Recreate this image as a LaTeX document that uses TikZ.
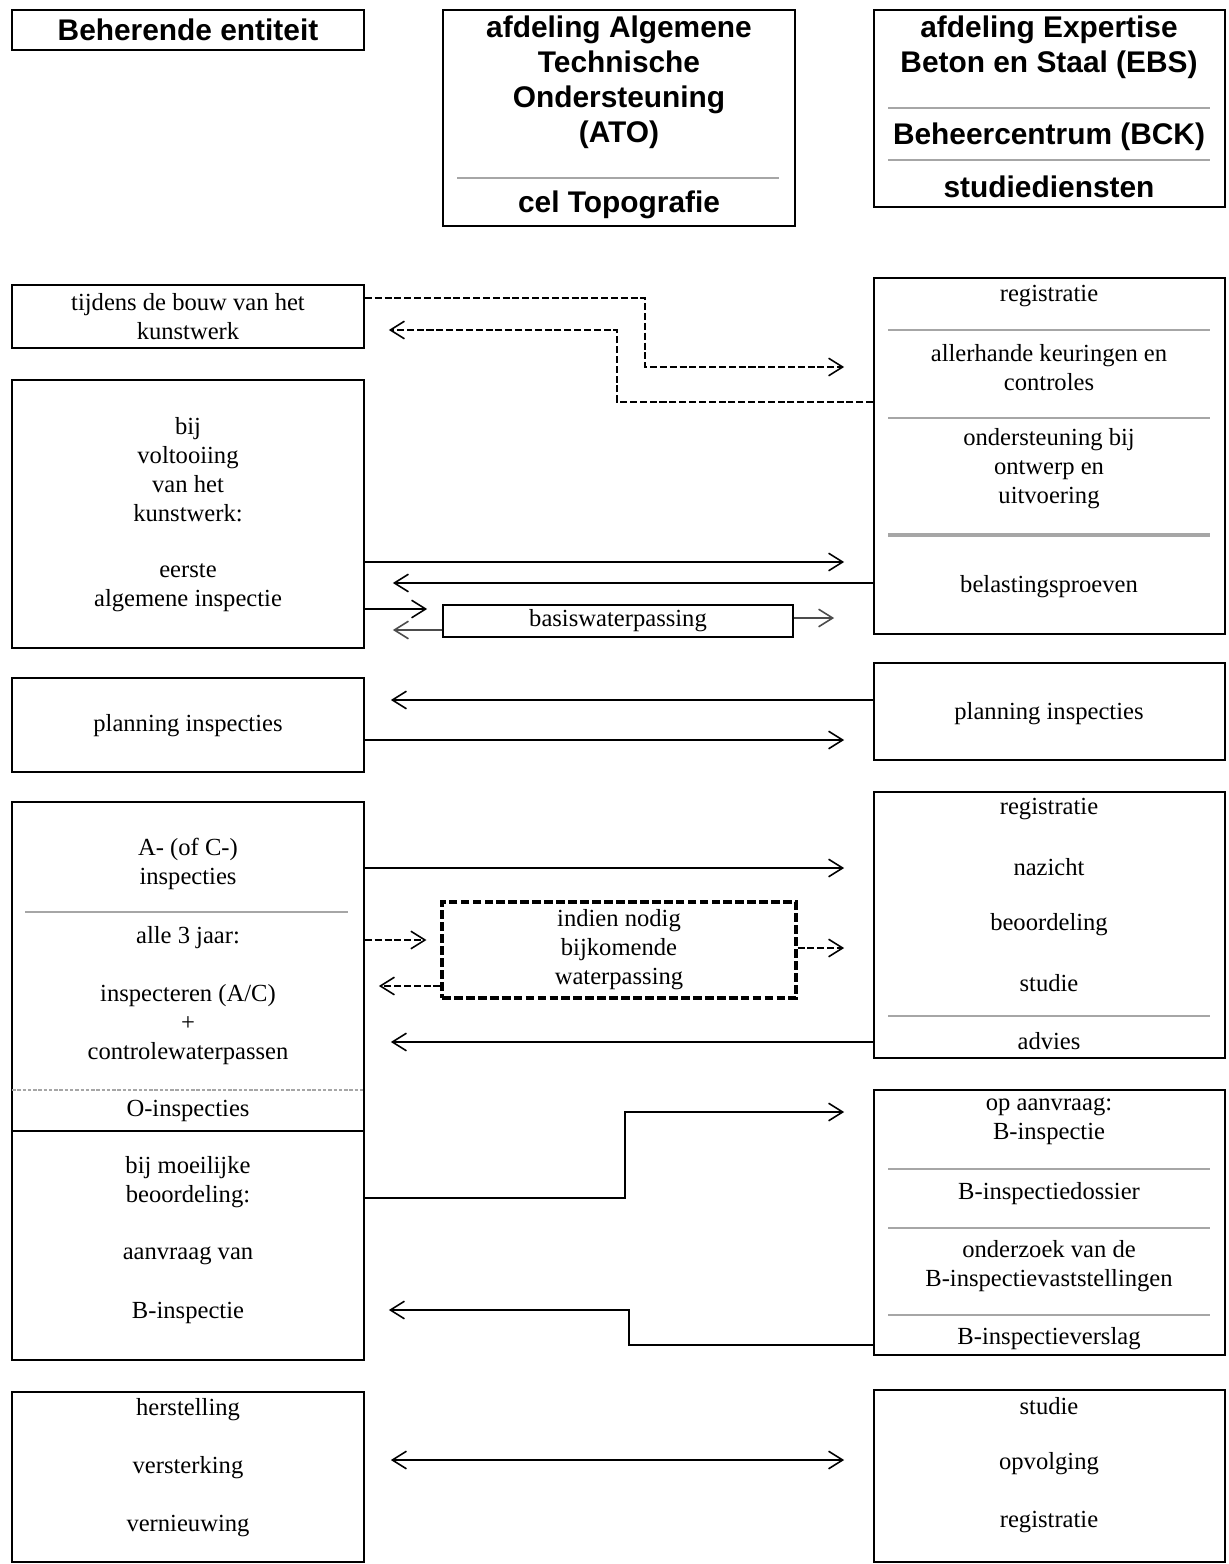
\documentclass[tikz,border=0pt]{standalone}
\usepackage{fontspec}
\setmainfont{Liberation Serif}
\newfontfamily\hdrfont{Liberation Sans}
\usetikzlibrary{arrows.meta, fit, calc}

\tikzset{
  box/.style={draw, line width=1pt, inner sep=0pt},
  txt/.style={align=center, inner sep=0pt, font=\fontsize{14}{16.5}\selectfont},
  hdr/.style={align=center, inner sep=0pt, font=\hdrfont\bfseries\fontsize{17}{20}\selectfont},
  sep/.style={draw=gray!70, line width=1.6pt},
  arr/.style={->, line width=0.9pt},
  darr/.style={arr, dash pattern=on 4pt off 1.6pt},
  >={Straight Barb[length=8pt, width=10pt]}
}

\begin{document}
\begin{tikzpicture}[x=0.02cm, y=-0.02cm]

    \useasboundingbox (0,0) rectangle (1228,1564);

    % kolomkoppen
    \node[box, fit={(12,10) (364,50)}] (H1) {};
    \node[box, fit={(443,10) (795,226)}] (H2) {};
    \node[box, fit={(874,10) (1225,207)}] (H3) {};

    \node[hdr] (h1) at (188,30) {Beherende entiteit};
    \node[hdr] (h2) at (619,82.5) {afdeling Algemene\\Technische\\Ondersteuning\\(ATO)};
    \draw[sep] (457,178) -- (779,178);
    \node[hdr] (h2b) at (619,205) {cel Topografie};
    \node[hdr] (h3) at (1049,47.5) {afdeling Expertise\\Beton en Staal (EBS)};
    \draw[sep] (888,108) -- (1210,108);
    \node[hdr] (h3b) at (1049,137) {Beheercentrum (BCK)};
    \draw[sep, line width=1pt] (888,160) -- (1210,160);
    \node[hdr] (h3c) at (1049,187) {studiediensten};

    % beherende entiteit
    \node[box, fit={(12,285) (364,348)}] (L1) {};
    \node[box, fit={(12,380) (364,648)}] (L2) {};
    \node[box, fit={(12,678) (364,772)}] (L3) {};
    \node[box, fit={(12,802) (364,1131)}] (LAC) {};
    \node[box, fit={(12,1131) (364,1360)}] (LB) {};
    \node[box, fit={(12,1392) (364,1562)}] (L5) {};

    \node[txt] (l1) at (188,317) {tijdens de bouw van het\\kunstwerk};
    \node[txt] (l2a) at (188,470) {bij\\voltooiing\\van het\\kunstwerk:};
    \node[txt] (l2b) at (188,588) {eerste\\algemene inspectie};
    \node[txt] (l3) at (188,726) {planning inspecties};
    \node[txt] (l4a) at (188,864) {A- (of C-)\\inspecties};
    \draw[sep] (25,912) -- (348,912);
    \node[txt] (l4b) at (188,938) {alle 3 jaar:};
    \node[txt] (l4c) at (188,1025) {inspecteren (A/C)\\+\\controlewaterpassen};
    \draw[draw=gray!70, line width=1.2pt, dash pattern=on 2pt off 1pt] (12,1090) -- (364,1090);
    \node[txt] (l4d) at (188,1111) {O-inspecties};
    \node[txt] (lb1) at (188,1182) {bij moeilijke\\beoordeling:};
    \node[txt] (lb2) at (188,1256) {aanvraag van};
    \node[txt] (lb3) at (188,1313) {B-inspectie};
    \node[txt] (l5a) at (188,1410) {herstelling};
    \node[txt] (l5b) at (188,1468) {versterking};
    \node[txt] (l5c) at (188,1526) {vernieuwing};

    % studiediensten
    \node[box, fit={(874,278) (1225,634)}] (R1) {};
    \node[box, fit={(874,663) (1225,760)}] (R2) {};
    \node[box, fit={(874,792) (1225,1058)}] (R3) {};
    \node[box, fit={(874,1090) (1225,1355)}] (R4) {};
    \node[box, fit={(874,1390) (1225,1562)}] (R5) {};

    \node[txt] (r1a) at (1049,296) {registratie};
    \draw[sep] (888,330) -- (1210,330);
    \node[txt] (r1b) at (1049,368) {allerhande keuringen en\\controles};
    \draw[sep] (888,418) -- (1210,418);
    \node[txt] (r1c) at (1049,469) {ondersteuning bij\\ontwerp en\\uitvoering};
    \draw[sep, line width=2.2pt] (888,535) -- (1210,535);
    \node[txt] (r1d) at (1049,587) {belastingsproeven};
    \node[txt] (r2) at (1049,714) {planning inspecties};
    \node[txt] (r3a) at (1049,809) {registratie};
    \node[txt] (r3b) at (1049,867) {nazicht};
    \node[txt] (r3c) at (1049,925) {beoordeling};
    \node[txt] (r3d) at (1049,983) {studie};
    \draw[sep] (888,1016) -- (1210,1016);
    \node[txt] (r3e) at (1049,1041) {advies};
    \node[txt] (r4a) at (1049,1121.5) {op aanvraag:\\B-inspectie};
    \draw[sep] (888,1169) -- (1210,1169);
    \node[txt] (r4b) at (1049,1194) {B-inspectiedossier};
    \draw[sep] (888,1228) -- (1210,1228);
    \node[txt] (r4c) at (1049,1266.5) {onderzoek van de\\B-inspectievaststellingen};
    \draw[sep, line width=1pt] (888,1315) -- (1210,1315);
    \node[txt] (r4d) at (1049,1339) {B-inspectieverslag};
    \node[txt] (r5a) at (1049,1406) {studie};
    \node[txt] (r5b) at (1049,1464) {opvolging};
    \node[txt] (r5c) at (1049,1522) {registratie};

    % topografie
    \node[box, fit={(443,605) (793,637)}] (M1) {};
    \node[txt] (m1) at (618,621) {basiswaterpassing};
    \node[box, line width=1.8pt, dash pattern=on 5pt off 1.8pt, fit={(442,902) (796,998)}] (M2) {};
    \node[txt] (m2) at (619,950) {indien nodig\\bijkomende\\waterpassing};

    % verbindingen
    \draw[darr, shorten >=0.58cm] (L1.east |- 0,298) -| (645,367) -- (R1.west |- 0,367);
    \draw[darr, shorten >=0.48cm] (R1.west |- 0,402) -| (617,330) -- (L1.east |- 0,330);

    \draw[arr, shorten >=0.58cm] (L2.east |- 0,562) -- (R1.west |- 0,562);
    \draw[arr, shorten >=0.56cm] (R1.west |- 0,583) -- (L2.east |- 0,583);
    \draw[arr, shorten >=0.3cm] (L2.east |- 0,609) -- (M1.west |- 0,609);
    \draw[arr, gray!60!black, shorten >=0.56cm] (M1.west |- 0,630) -- (L2.east |- 0,630);
    \draw[arr, gray!60!black, shorten >=0.78cm] (M1.east |- 0,618) -- (R1.west |- 0,618);

    \draw[arr, shorten >=0.52cm] (R2.west |- 0,700) -- (L3.east |- 0,700);
    \draw[arr, shorten >=0.58cm] (L3.east |- 0,740) -- (R2.west |- 0,740);

    \draw[arr, shorten >=0.58cm] (LAC.east |- 0,868) -- (R3.west |- 0,868);
    \draw[darr, shorten >=0.28cm] (LAC.east |- 0,940) -- (M2.west |- 0,940);
    \draw[darr, shorten >=0.28cm] (M2.west |- 0,986) -- (LAC.east |- 0,986);
    \draw[darr, shorten >=0.58cm] (M2.east |- 0,948) -- (R3.west |- 0,948);
    \draw[arr, shorten >=0.52cm] (R3.west |- 0,1042) -- (LAC.east |- 0,1042);

    \draw[arr, shorten >=0.58cm] (LB.east |- 0,1198) -| (625,1112) -- (R4.west |- 0,1112);
    \draw[arr, shorten >=0.48cm] (R4.west |- 0,1345) -| (629,1310) -- (LB.east |- 0,1310);

    \draw[<->, line width=0.9pt, shorten <=0.52cm, shorten >=0.58cm] (L5.east |- 0,1460) -- (R5.west |- 0,1460);

\end{tikzpicture}
\end{document}
